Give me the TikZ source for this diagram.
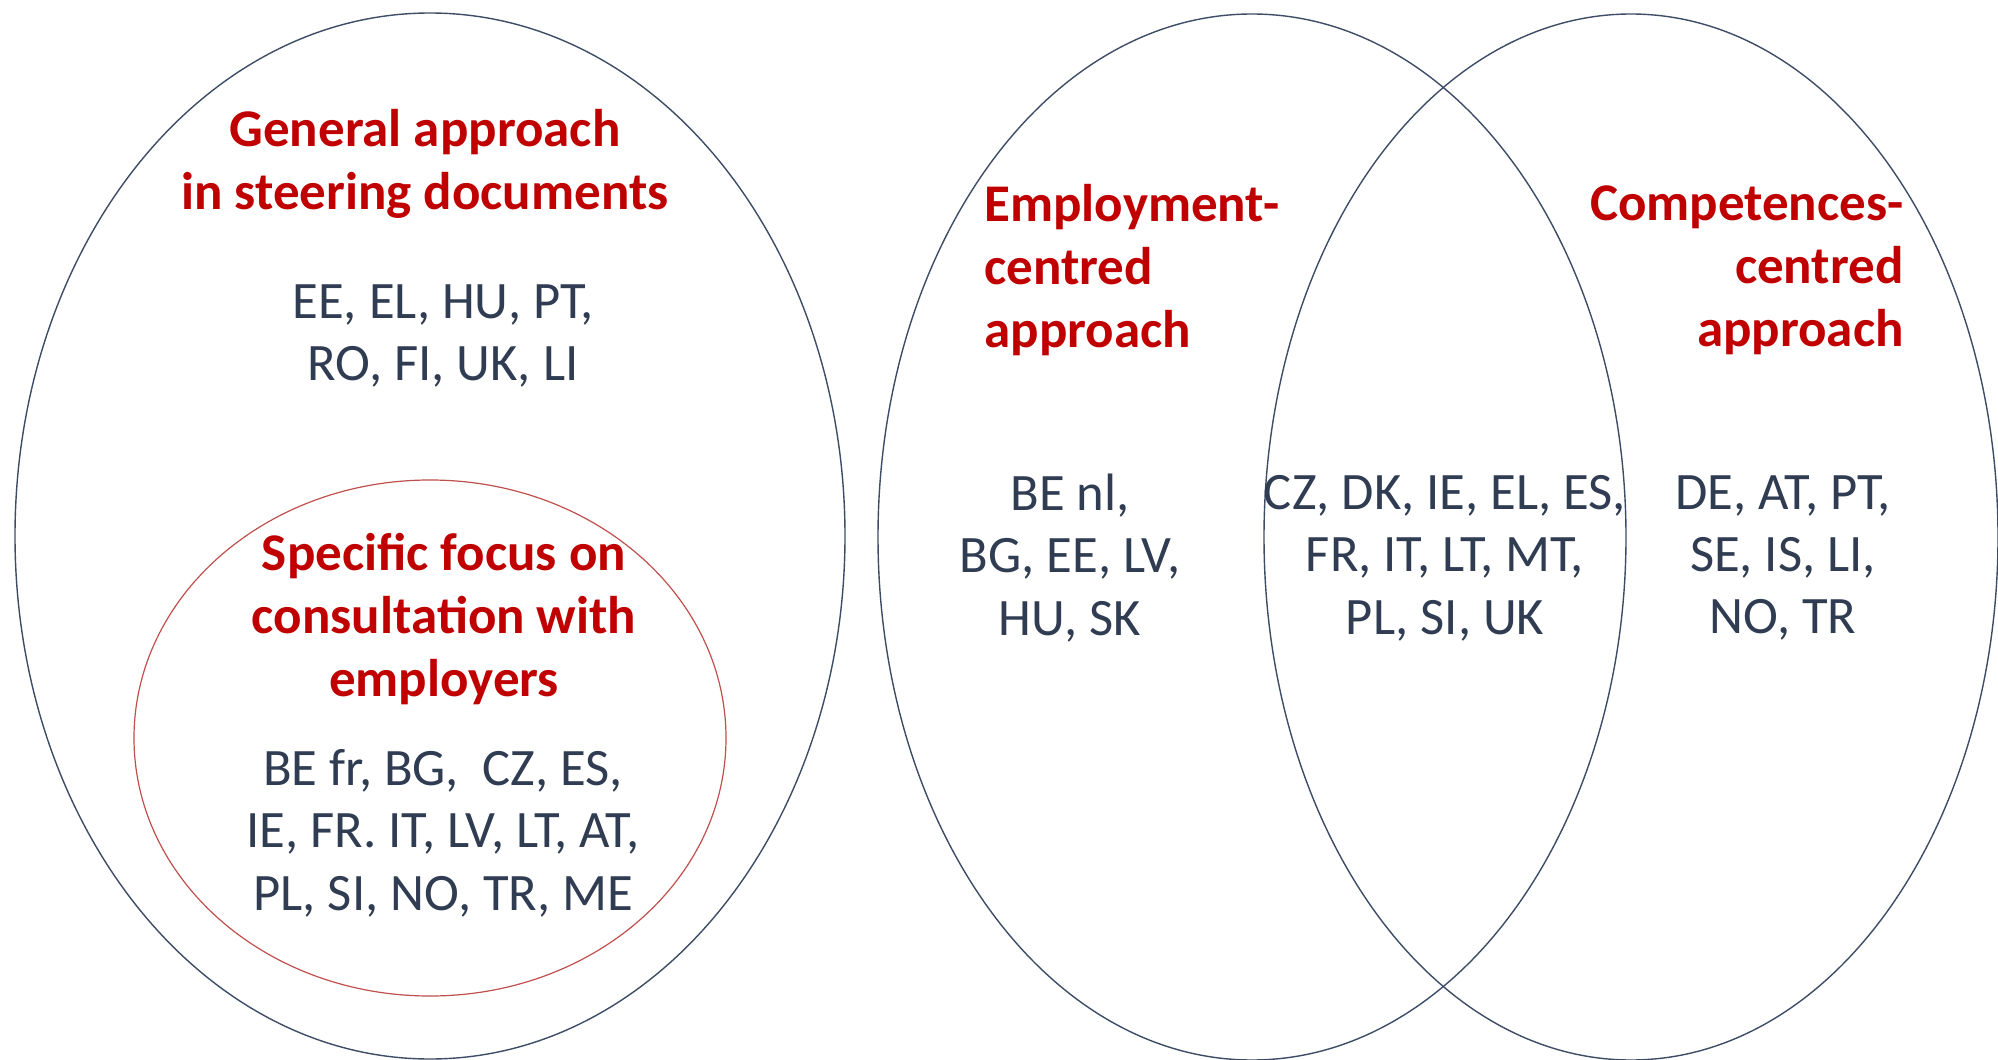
\documentclass[tikz,border=0pt]{standalone}
\usepackage{fontspec}
\setmainfont{Carlito}
\definecolor{titlered}{HTML}{C00000}
\definecolor{listblue}{HTML}{2F3C52}
\definecolor{rimblue}{HTML}{3E4D66}
\definecolor{rimred}{HTML}{C0504D}
\begin{document}
\begin{tikzpicture}[x=0.5pt,y=-0.5pt,
  headtext/.style={text=titlered, font=\fontsize{26.5}{31.5}\selectfont\bfseries, inner sep=0pt},
  countrytext/.style={text=listblue, font=\fontsize{26.3}{31.2}\selectfont, inner sep=0pt, align=center},
  rim/.style={draw=rimblue, line width=0.7pt},
  redrim/.style={draw=rimred, line width=0.6pt}]
\useasboundingbox (0,0) rectangle (1998,1060);
\fill[white] (0,0) rectangle (1998,1060);
% ellipses
\draw[rim] (430,536) ellipse [x radius=207.5pt, y radius=261.5pt];
\draw[redrim] (430,738) ellipse [x radius=148pt, y radius=129pt];
\draw[rim] (1252,537) ellipse [x radius=187pt, y radius=261.5pt];
\draw[rim] (1631,537) ellipse [x radius=183.5pt, y radius=261.5pt];
% left circle texts
\node[headtext, align=center] (gentitle) at (425,164) {General approach\\in steering documents};
\node[countrytext] (genlist) at (443,336) {EE, EL, HU, PT,\\RO, FI, UK, LI};
\node[headtext, align=center] (spectitle) at (444,619) {Specific focus on\\consultation with\\employers};
\node[countrytext] (speclist) at (443,833) {BE fr, BG,~~CZ, ES,\\IE, FR. IT, LV, LT, AT,\\PL, SI, NO, TR, ME};
% right diagram texts
\node[headtext, align=left, anchor=west] (emptitle) at (984,270) {Employment-\\centred\\approach};
\node[headtext, align=right, anchor=east] (comptitle) at (1904,270) {Competences-\\centred\\approach};
\node[countrytext] (emplist) at (1070,558) {BE nl,\\BG, EE, LV,\\HU, SK};
\node[countrytext] (bothlist) at (1445,558) {CZ, DK, IE, EL, ES,\\FR, IT, LT, MT,\\PL, SI, UK};
\node[countrytext] (complist) at (1783,558) {DE, AT, PT,\\SE, IS, LI,\\NO, TR};
\end{tikzpicture}
\end{document}
